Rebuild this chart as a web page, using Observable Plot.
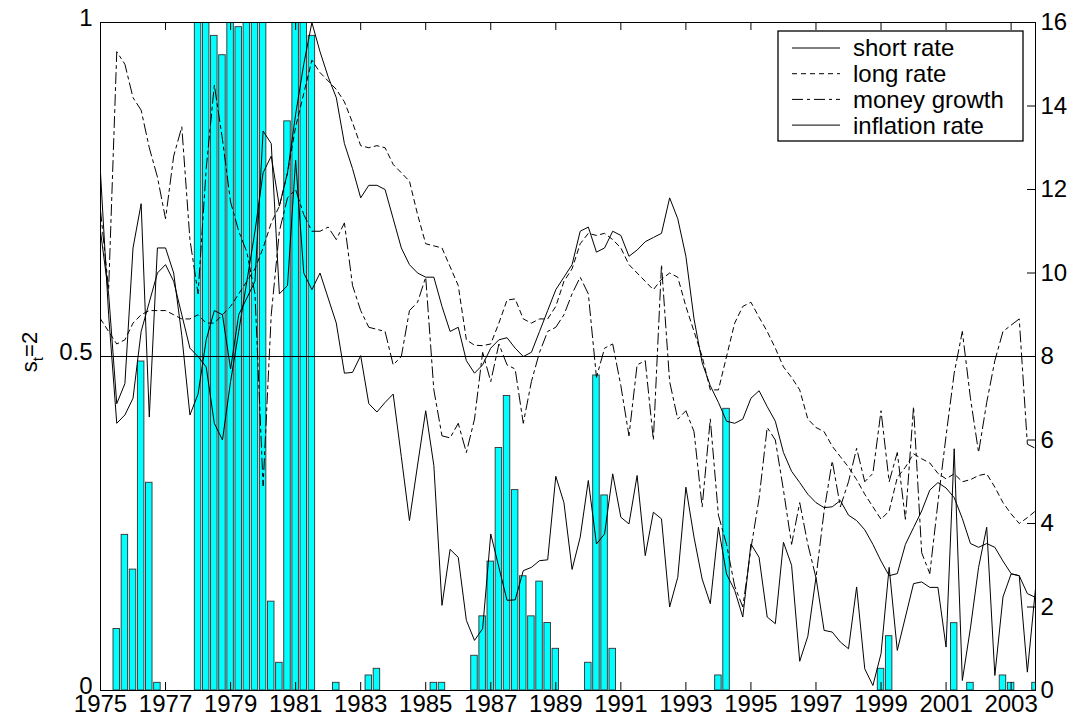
<!DOCTYPE html>
<html><head><meta charset="utf-8">
<script src="https://cdn.jsdelivr.net/npm/d3@7"></script>
<script src="https://cdn.jsdelivr.net/npm/@observablehq/plot@0.6"></script>
<style>
body{margin:0;background:#fff;}
#chart svg{font-family:"Liberation Sans",Arial,Helvetica,sans-serif;}
</style></head><body><div id="chart"></div>
<script>
// quarterly data, first quarter 1975Q1
const startYear = 1975;
const probRegime2 = [
0,0,0.092,0.233,0.181,0.4925,0.311,0.0115,0,0,0,0,
1.0,1.0,0.98,0.951,1.0,0.993,1.0,1.0,1.0,0.133,0.0415,0.852,
1.0,1.0,0.98,0,0,0.0115,0,0,0,0.0225,0.0325,0,
0,0,0,0,0,0.0115,0.0115,0,0,0,0.052,0.111,
0.193,0.363,0.441,0.300,0.171,0.111,0.163,0.101,0.0624,0,0,0,
0.0415,0.4716,0.292,0.0624,0,0,0,0,0,0,0,0,
0,0,0,0,0.0225,0.4217,0,0,0,0,0,0,
0,0,0,0,0,0,0,0,0,0,0,0,
0.0325,0.0813,0,0,0,0,0,0,0,0.1008,0,0.0115,
0,0,0,0.0225,0.0115,0,0,0.0115
];
const shortRate = [
12.4,9.0,6.4,6.6,7.0,8.6,9.3,10.0,10.2,9.8,9.0,8.2,
8.0,7.75,6.4,6.0,7.4,8.6,9.8,11.0,12.4,12.8,11.6,12.4,
13.8,15.0,16.0,15.3,14.7,14.2,13.1,12.5,11.8,12.1,12.1,12.0,
11.3,10.6,10.2,10.0,9.9,9.9,9.2,8.6,8.7,7.9,7.6,7.8,
8.2,8.4,8.45,8.2,8.0,8.1,8.6,9.1,9.6,9.9,10.2,11.0,
11.1,10.5,10.6,11.0,10.9,10.4,10.55,10.75,10.85,10.95,11.8,11.3,
10.4,8.9,7.85,7.3,6.9,6.45,6.4,6.5,7.0,7.18,6.8,6.45,
5.7,5.25,4.98,4.7,4.5,4.38,4.4,4.55,4.2,4.07,3.85,3.5,
3.1,2.75,2.8,3.5,3.9,4.3,4.8,4.98,4.85,4.62,4.12,3.52,
3.43,3.52,3.43,3.1,2.8,2.75,2.32,2.23
];
const longRate = [
8.9,8.6,8.3,8.4,8.8,9.0,9.1,9.1,9.1,9.0,8.9,8.9,
9.0,8.8,8.8,9.0,9.2,9.5,9.8,10.1,10.6,11.2,11.6,12.4,
13.5,14.3,15.1,14.8,14.6,14.4,14.1,13.6,13.05,13.0,13.05,13.0,
12.6,12.4,12.2,11.4,10.7,10.65,10.6,10.15,9.7,8.4,8.27,8.26,
8.3,8.8,9.35,9.38,8.9,8.8,8.9,8.9,9.2,9.8,10.1,10.7,
10.95,10.9,10.95,10.8,10.6,10.2,10.0,9.8,9.6,9.85,10.0,9.9,
9.2,8.6,8.0,7.2,7.2,8.0,8.8,9.2,9.3,8.94,8.6,8.2,
7.75,7.5,7.2,6.5,6.3,6.2,5.85,5.6,5.35,5.05,4.7,4.4,
4.1,4.3,5.1,5.35,5.67,5.55,5.45,5.2,5.07,5.19,5.0,5.05,
5.15,5.19,4.87,4.5,4.23,4.0,4.14,4.3
];
const moneyGrowth = [
11.5,9.6,15.3,15.0,14.2,13.9,13.0,12.3,11.3,12.8,13.5,10.8,
9.5,12.5,14.5,13.2,11.7,11.0,10.5,9.5,4.9,9.0,11.0,11.8,
12.0,11.4,11.0,11.0,11.1,10.8,11.2,9.7,9.1,8.7,8.65,8.6,
7.8,8.0,9.1,9.3,9.9,7.2,6.1,6.05,6.4,5.7,6.5,8.1,
7.4,8.3,7.8,7.7,6.4,7.4,8.1,8.6,8.7,9.0,9.5,9.9,
9.5,7.5,8.2,8.3,7.3,6.1,7.8,7.9,6.0,10.2,7.4,6.5,
6.7,6.2,4.4,6.5,4.2,3.5,2.5,2.0,3.4,4.6,6.3,6.0,
4.8,3.5,4.5,3.5,2.7,4.3,5.5,4.4,5.0,5.8,5.0,5.2,
6.7,5.0,5.7,4.1,6.8,3.3,2.8,4.5,6.1,7.6,8.6,7.0,
5.7,6.9,7.9,8.6,8.75,8.9,5.9,5.8
];
const inflationRate = [
11.0,9.5,6.87,7.35,10.6,11.66,6.55,10.6,10.6,10.0,8.5,6.6,
7.1,8.4,9.1,9.0,7.7,9.0,9.4,9.8,13.4,13.1,9.5,9.7,
12.7,10.0,9.6,10.0,9.4,8.8,7.6,7.62,8.02,6.87,6.67,6.9,
7.1,5.6,4.07,5.4,6.7,5.39,2.04,3.38,3.19,1.68,1.2,1.48,
3.75,2.95,2.16,2.17,2.87,2.95,3.11,3.13,5.13,4.5,2.9,3.67,
5.03,3.51,3.75,5.19,4.15,3.99,5.15,3.23,4.27,4.11,2.0,2.71,
4.87,3.67,2.67,2.08,3.91,2.79,2.4,1.76,3.51,3.19,1.76,1.6,
3.55,3.0,0.7,1.3,2.71,1.44,1.4,1.16,1.0,2.48,0.52,0.12,
0.88,2.95,0.96,1.76,2.56,2.6,2.47,2.47,1.04,5.79,0.24,1.5,
2.95,3.91,0.36,2.24,2.79,2.75,0.44,2.44
];
const xTickYears = [1975,1977,1979,1981,1983,1985,1987,1989,1991,1993,1995,1997,1999,2001,2003];
const leftTicks = [0,0.5,1];
const rightTicks = [0,2,4,6,8,10,12,14,16];
const rightMax = 16;
const seriesNames = ["short rate","long rate","money growth","inflation rate"];
const seriesDash = [null,"5,4","11,4,3,4",null];

const W = 1071, H = 717, mL = 100, mR = 36, mT = 22, mB = 27;
const xDomain = [1975, 2003.75];
const time = i => startYear + i / 4;
const bars = probRegime2.map((p, i) => ({t: time(i), p}));
const allSeries = [shortRate, longRate, moneyGrowth, inflationRate];
const pxPerYear = (W - mL - mR) / (xDomain[1] - xDomain[0]);
const pxPerUnit = H - mT - mB;
const tickLen = 8;
const tX = tickLen / pxPerYear, tY = tickLen / pxPerUnit;

const lineMarks = allSeries.map((vals, k) =>
  Plot.line(vals.map((v, i) => ({t: time(i), v})), {
    x: "t", y: d => d.v / rightMax, stroke: "black", strokeWidth: 1,
    strokeDasharray: seriesDash[k], clip: true
  })
);

const plot = Plot.plot({
  width: W, height: H,
  marginLeft: mL, marginRight: mR, marginTop: mT, marginBottom: mB,
  style: {fontFamily: "Liberation Sans, Arial, sans-serif", fontSize: "24px", color: "black", background: "white"},
  x: {domain: xDomain},
  y: {domain: [0, 1]},
  marks: [
    Plot.rect(bars, {x1: d => d.t - 0.1, x2: d => d.t + 0.1, y1: d => 0, y2: "p",
      fill: "#00ffff", stroke: "#303030", strokeWidth: 0.9, clip: true}),
    Plot.ruleY([0.5], {stroke: "black", strokeWidth: 1}),
    ...lineMarks,
    Plot.ruleX(xTickYears, {x: d => d, y1: 0, y2: tY, stroke: "black"}),
    Plot.ruleX(xTickYears, {x: d => d, y1: 1 - tY, y2: 1, stroke: "black"}),
    Plot.ruleY(leftTicks, {y: d => d, x1: xDomain[0], x2: xDomain[0] + tX, stroke: "black"}),
    Plot.ruleY(rightTicks, {y: d => d / rightMax, x1: xDomain[1] - tX, x2: xDomain[1], stroke: "black"}),
    Plot.frame({stroke: "black", strokeWidth: 1}),
    Plot.axisX(xTickYears, {anchor: "bottom", tickSize: 0, tickPadding: 4, fontSize: 24, tickFormat: d => String(d), label: null}),
    Plot.axisY(leftTicks, {anchor: "left", tickSize: 0, tickPadding: 8, fontSize: 24, dy: -4, tickFormat: d => String(d), label: null}),
    Plot.axisY(rightTicks.map(d => d / rightMax), {anchor: "right", tickSize: 0, tickPadding: 5, fontSize: 24,
      tickFormat: d => String(Math.round(d * rightMax)), label: null})
  ]
});
document.getElementById("chart").appendChild(plot);

// legend (inside the axes, top right) and y label
const svg = d3.select(plot);
const lg = svg.append("g").attr("font-family", "Liberation Sans, Arial, sans-serif")
  .attr("font-size", 24).attr("text-anchor", "start");
lg.append("rect").attr("x", 778).attr("y", 31).attr("width", 245).attr("height", 110)
  .attr("fill", "white").attr("stroke", "black").attr("stroke-width", 1.3);
seriesNames.forEach((name, k) => {
  const yy = 48 + k * 25.7;
  lg.append("line").attr("x1", 792).attr("x2", 840).attr("y1", yy).attr("y2", yy)
    .attr("stroke", "black").attr("stroke-width", 1).attr("stroke-dasharray", seriesDash[k]);
  lg.append("text").attr("x", 853).attr("y", yy).attr("dy", "0.35em")
    .attr("text-anchor", "start").attr("fill", "black").text(name);
});
const yl = svg.append("text").attr("transform", "translate(37,352) rotate(-90)")
  .attr("text-anchor", "middle").attr("font-family", "Liberation Sans, Arial, sans-serif")
  .attr("font-size", 22).attr("fill", "black");
yl.append("tspan").text("s");
yl.append("tspan").attr("font-size", 15).attr("dy", 6).text("t");
yl.append("tspan").attr("dy", -6).text("=2");
</script></body></html>
